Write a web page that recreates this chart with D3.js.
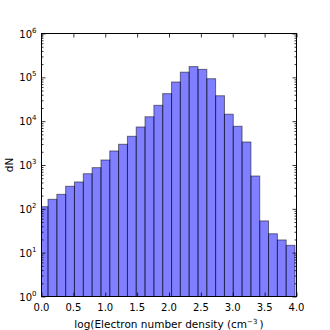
<!DOCTYPE html>
<html>
<head>
<meta charset="utf-8">
<script src="https://cdn.jsdelivr.net/npm/d3@7"></script>
<style>
  html, body { margin: 0; padding: 0; background: #fff; }
  svg text { font-family: "DejaVu Sans", sans-serif; fill: #000; }
</style>
</head>
<body>
<svg id="chart" width="330" height="330"></svg>
<script>
// bin edges, log(n_e) in cm^-3
const binEdges = [-0.036, 0.102, 0.241, 0.379, 0.517, 0.656, 0.794, 0.933, 1.071, 1.209,
  1.348, 1.486, 1.624, 1.763, 1.901, 2.040, 2.178, 2.316, 2.455, 2.593,
  2.731, 2.870, 3.008, 3.146, 3.285, 3.423, 3.561, 3.700, 3.838, 3.976];
// counts per bin (dN)
const counts = [112, 165, 214, 327, 410, 632, 870, 1300, 2090, 2970,
  4520, 7370, 12600, 23000, 42500, 78300, 131000, 176000, 152000, 93000,
  38000, 14400, 7640, 3350, 561, 53, 27, 19.5, 14.7];
const xTicks = [0, 0.5, 1, 1.5, 2, 2.5, 3, 3.5, 4];
const yDecades = [0, 1, 2, 3, 4, 5, 6];

const margin = { top: 33.5, right: 33.5, bottom: 33.5, left: 41.5 };
const width = 330 - margin.left - margin.right;
const height = 330 - margin.top - margin.bottom;

const svg = d3.select('#chart');
const g = svg.append('g')
  .attr('transform', `translate(${margin.left},${margin.top})`);

const x = d3.scaleLinear().domain([0, 4]).range([0, width]);
const y = d3.scaleLog().domain([1, 1e6]).range([height, 0]);

g.append('clipPath')
  .attr('id', 'clip')
  .append('rect')
  .attr('width', width)
  .attr('height', height);

const bins = counts.map((c, i) => ({ x0: binEdges[i], x1: binEdges[i + 1], n: c }));

g.append('g')
  .attr('clip-path', 'url(#clip)')
  .selectAll('rect')
  .data(bins)
  .enter()
  .append('rect')
  .attr('x', d => x(d.x0))
  .attr('width', d => x(d.x1) - x(d.x0))
  .attr('y', d => y(d.n))
  .attr('height', d => height - y(d.n) + 2)
  .attr('fill', '#0000ff')
  .attr('fill-opacity', 0.5)
  .attr('stroke', '#000')
  .attr('stroke-opacity', 0.5)
  .attr('stroke-width', 1);

// minor ticks on log axis
const minorVals = [];
yDecades.slice(0, -1).forEach((p) => {
  for (let k = 2; k <= 9; k++) minorVals.push(k * Math.pow(10, p));
});

const tickStyle = sel => sel.select('.domain').remove();

// left / right
const yLeft = g.append('g')
  .call(d3.axisLeft(y).tickValues(yDecades.map(p => Math.pow(10, p))).tickSize(-4).tickFormat(''))
  .call(tickStyle);
g.append('g')
  .call(d3.axisLeft(y).tickValues(minorVals).tickSize(-2).tickFormat(''))
  .call(tickStyle);
g.append('g')
  .attr('transform', `translate(${width},0)`)
  .call(d3.axisRight(y).tickValues(yDecades.map(p => Math.pow(10, p))).tickSize(-4).tickFormat(''))
  .call(tickStyle);
g.append('g')
  .attr('transform', `translate(${width},0)`)
  .call(d3.axisRight(y).tickValues(minorVals).tickSize(-2).tickFormat(''))
  .call(tickStyle);

// bottom / top
g.append('g')
  .attr('transform', `translate(0,${height})`)
  .call(d3.axisBottom(x).tickValues(xTicks).tickSize(-4).tickFormat(''))
  .call(tickStyle);
g.append('g')
  .call(d3.axisTop(x).tickValues(xTicks).tickSize(-4).tickFormat(''))
  .call(tickStyle);

g.selectAll('.tick line').attr('stroke', '#000').attr('stroke-width', 0.8);

// frame
g.append('rect')
  .attr('width', width)
  .attr('height', height)
  .attr('fill', 'none')
  .attr('stroke', '#000')
  .attr('stroke-width', 1);

// x tick labels
g.selectAll('.xlab')
  .data(xTicks)
  .enter()
  .append('text')
  .attr('x', d => x(d))
  .attr('y', height + 14)
  .attr('text-anchor', 'middle')
  .style('font-size', '10px')
  .text(d => d.toFixed(1));

// y tick labels 10^p
const ylab = g.selectAll('.ylab')
  .data(yDecades)
  .enter()
  .append('text')
  .attr('x', -5)
  .attr('y', d => y(Math.pow(10, d)) + 4)
  .attr('text-anchor', 'end')
  .style('font-size', '10px');
ylab.append('tspan').text('10');
ylab.append('tspan')
  .attr('dy', -5)
  .style('font-size', '7px')
  .text(d => d);

// axis titles
g.append('text')
  .attr('transform', `translate(-29,${height / 2}) rotate(-90)`)
  .attr('text-anchor', 'middle')
  .style('font-size', '10.5px')
  .text('dN');

const xt = g.append('text')
  .attr('x', width / 2)
  .attr('y', height + 31)
  .attr('text-anchor', 'middle')
  .style('font-size', '10.5px');
xt.append('tspan').text('log(Electron number density (cm');
xt.append('tspan').attr('dy', -4).style('font-size', '7px').text('\u22123');
xt.append('tspan').attr('dy', 4).text('\u2009)');
</script>
</body>
</html>
